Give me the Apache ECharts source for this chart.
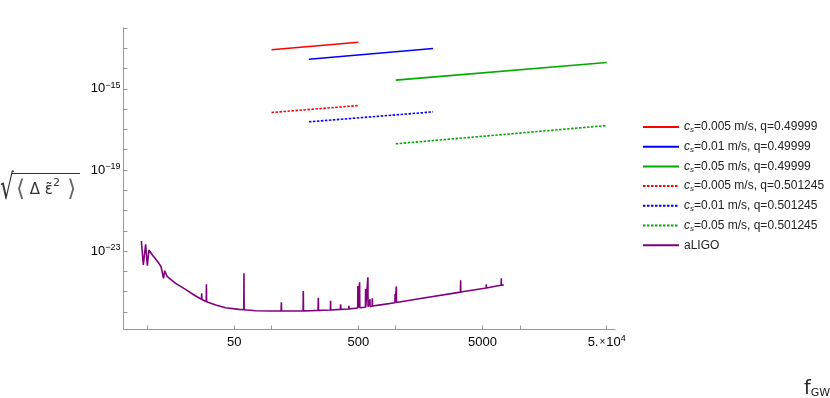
<!DOCTYPE html>
<html><head><meta charset="utf-8">
<script src="https://cdn.jsdelivr.net/npm/echarts@6/dist/echarts.min.js"></script>
<style>html,body{margin:0;padding:0;background:#fff}#c{width:830px;height:398px}</style>
</head><body><div id="c"></div>
<script>
// ---- data (frequency in Hz, amplitude values) ----
const seriesNames = [
  'c_s=0.005 m/s, q=0.49999',
  'c_s=0.01 m/s, q=0.49999',
  'c_s=0.05 m/s, q=0.49999',
  'c_s=0.005 m/s, q=0.501245',
  'c_s=0.01 m/s, q=0.501245',
  'c_s=0.05 m/s, q=0.501245',
  'aLIGO'
];
const redFreq = [100, 500];
const redSolid = [8.4e-14, 2.0e-13];
const redDotted = [6.8e-17, 1.5e-16];
const blueFreq = [200, 2000];
const blueSolid = [2.9e-14, 9.7e-14];
const blueDotted = [2.36e-17, 7.3e-17];
const greenFreq = [1000, 50000];
const greenSolid = [2.7e-15, 1.98e-14];
const greenDotted = [1.94e-18, 1.55e-17];

const aligoFreq = [8.95, 9.29, 9.69, 10.0, 10.3, 10.98, 12.4, 12.9, 13.5, 13.8, 14.5, 16.9, 20.3, 24.5,
  27.3, 27.4, 27.5, 29.8, 29.9, 30.0, 35.5, 42.7, 54.7, 59.8, 60.0, 60.2, 74.5, 98.4,
  119.5, 120, 120.5, 142.6, 179.5, 180.3, 181, 206.5, 237, 238, 239, 298, 299, 300,
  358, 360, 362, 418, 420, 422, 494, 496, 498, 510, 512, 514, 570, 572, 574,
  595, 597, 599, 618, 620, 622, 646, 648, 650, 756, 985, 988, 992, 1010, 1012, 1015,
  1587, 3320, 3332, 3345, 5350, 5365, 5380, 6500, 7060, 7080, 7100, 7430];
const aligoASD = [3.11e-23, 2.04e-24, 2.14e-23, 1.88e-24, 1.12e-23, 6.35e-24, 2.47e-24, 1.68e-24, 4.51e-25, 1.07e-24, 5.41e-25, 2.55e-25, 1.29e-25, 6.04e-26,
  4.2e-26, 8.2e-26, 4.1e-26, 3.25e-26, 2.28e-25, 3.15e-26, 2.17e-26, 1.6e-26, 1.33e-26, 1.27e-26, 7.94e-25, 1.26e-26, 1.14e-26, 1.10e-26,
  1.10e-26, 2.95e-26, 1.10e-26, 1.10e-26, 1.12e-26, 1.07e-25, 1.12e-26, 1.14e-26, 1.18e-26, 4.98e-26, 1.18e-26, 1.23e-26, 3.55e-26, 1.23e-26,
  1.33e-26, 2.35e-26, 1.33e-26, 1.39e-26, 2.01e-26, 1.39e-26, 1.55e-26, 1.88e-25, 1.56e-26, 1.58e-26, 2.86e-25, 1.6e-26, 1.7e-26, 1.34e-25, 1.72e-26,
  1.76e-26, 5.05e-25, 1.78e-26, 1.84e-26, 4.17e-26, 1.86e-26, 1.92e-26, 4.66e-26, 1.93e-26, 2.22e-26, 2.8e-26, 7.6e-26, 2.82e-26, 2.86e-26, 1.8e-25, 2.88e-26,
  4.55e-26, 9.4e-26, 3.59e-25, 9.5e-26, 1.5e-25, 2.28e-25, 1.5e-25, 1.9e-25, 2.05e-25, 4.51e-25, 2.07e-25, 2.1e-25];

const xTickFreqs = [10, 50, 100, 500, 1000, 5000, 10000, 50000];
const xLabelFreqs = [50, 500, 5000, 50000];
const yTickExps = [-26, -25, -24, -23, -22, -21, -20, -19, -18, -17, -16, -15, -14, -13, -12];
const yLabelExps = [-23, -19, -15];
const xRangeHz = [6.43, 58300];
const yRangeExp = [-26.87, -12];

// ---- build ----
const lg = Math.log10;
const pts = (fs, vs) => fs.map((f, i) => [lg(f), lg(vs[i])]);
const colors = ['#ff0000', '#0000ff', '#00aa00', '#ff0000', '#0000ff', '#00aa00', '#800080'];
const freqs = [redFreq, blueFreq, greenFreq, redFreq, blueFreq, greenFreq, aligoFreq];
const vals = [redSolid, blueSolid, greenSolid, redDotted, blueDotted, greenDotted, aligoASD];

const series = seriesNames.map((name, i) => ({
  name, type: 'line', symbol: 'none', showSymbol: false, animation: false,
  data: pts(freqs[i], vals[i]),
  lineStyle: { color: colors[i], width: 1.6, type: (i >= 3 && i <= 5) ? [2.5, 1.5] : 'solid' },
  itemStyle: { color: colors[i] },
  z: i === 6 ? 3 : 2
}));

const chart = echarts.init(document.getElementById('c'), null, { renderer: 'canvas' });
const supRich = {
  b: { fontSize: 13, fontFamily: 'Liberation Sans', color: '#000', lineHeight: 16 },
  x: { fontSize: 10, fontFamily: 'Liberation Sans', color: '#000', lineHeight: 16, padding: [0, 1, 0, 1] },
  sup: { fontSize: 9, fontFamily: 'Liberation Sans', color: '#000', lineHeight: 10, verticalAlign: 'top' }
};
chart.setOption({
  animation: false,
  backgroundColor: '#fff',
  grid: { left: 123.5, right: 215, top: 28, bottom: 68.5, containLabel: false, outerBoundsMode: 'none' },
  xAxis: {
    type: 'value', min: lg(xRangeHz[0]), max: lg(xRangeHz[1]),
    axisLine: { onZero: false, lineStyle: { color: '#999', width: 1 } },
    axisTick: { inside: true, length: 4, lineStyle: { color: '#999' }, customValues: xTickFreqs.map(lg) },
    axisLabel: {
      customValues: xLabelFreqs.map(lg), margin: 5, color: '#000',
      formatter: v => {
        const f = Math.round(Math.pow(10, v));
        if (f >= 50000) return '{b|5.}{x|×}{b|10}{sup|4}';
        return '{b|' + f + '}';
      },
      rich: supRich
    },
    splitLine: { show: false }
  },
  yAxis: {
    type: 'value', min: yRangeExp[0], max: yRangeExp[1],
    axisLine: { onZero: false, lineStyle: { color: '#999', width: 1 } },
    axisTick: { inside: true, length: 4, lineStyle: { color: '#999' }, customValues: yTickExps },
    axisLabel: {
      customValues: yLabelExps, margin: 3, color: '#000',
      formatter: v => '{b|10}{sup|\u2212' + Math.abs(Math.round(v)) + '}',
      rich: supRich
    },
    splitLine: { show: false }
  },
  legend: {
    orient: 'vertical', left: 642, top: 120, padding: 0, itemWidth: 36, itemHeight: 14, itemGap: 5.7,
    data: seriesNames, selectedMode: false,
    itemStyle: { opacity: 0 },
    formatter: name => name.startsWith('c_s') ? '{c|c}{s|s}{t|' + name.slice(3) + '}' : '{t|' + name + '}',
    textStyle: {
      fontSize: 12, fontFamily: 'Liberation Sans', color: '#222', lineHeight: 14,
      rich: {
        c: { fontSize: 12, fontStyle: 'italic', fontFamily: 'Liberation Sans', color: '#222', lineHeight: 14 },
        s: { fontSize: 8, fontStyle: 'italic', fontFamily: 'Liberation Sans', color: '#222', lineHeight: 8, verticalAlign: 'bottom' },
        t: { fontSize: 12, fontFamily: 'Liberation Sans', color: '#222', lineHeight: 14 }
      }
    }
  },
  graphic: [
    { type: 'text', x: 0, y: 172, scaleX: 0.62, style: { text: '\u221A', fontSize: 35, fontFamily: 'DejaVu Sans', fill: '#333', verticalAlign: 'top' } },
    { type: 'line', shape: { x1: 12, y1: 173.5, x2: 80, y2: 173.5 }, style: { stroke: '#333', lineWidth: 1 } },
    { type: 'text', x: 16, y: 190, style: {
        text: '{br|\u27E8}{t| \u0394 \u03B5\u0303}{sup|2}{br| \u27E9}', verticalAlign: 'middle', fill: '#333',
        rich: {
          br: { fontSize: 23, fontFamily: 'DejaVu Sans', fill: '#666', lineHeight: 24 },
          t: { fontSize: 15, fontFamily: 'DejaVu Sans', fill: '#333', lineHeight: 24 },
          sup: { fontSize: 11, fontFamily: 'DejaVu Sans', fill: '#333', lineHeight: 16, verticalAlign: 'top' }
        } } },
    { type: 'text', x: 804, y: 389, style: {
        text: '{f|f}{s|GW}', verticalAlign: 'middle', fill: '#222',
        rich: {
          f: { fontSize: 19, fontFamily: 'DejaVu Sans', fill: '#222', lineHeight: 20 },
          s: { fontSize: 11, fontFamily: 'DejaVu Sans', fill: '#222', lineHeight: 11, verticalAlign: 'bottom' }
        } } }
  ],
  series
});
</script></body></html>
